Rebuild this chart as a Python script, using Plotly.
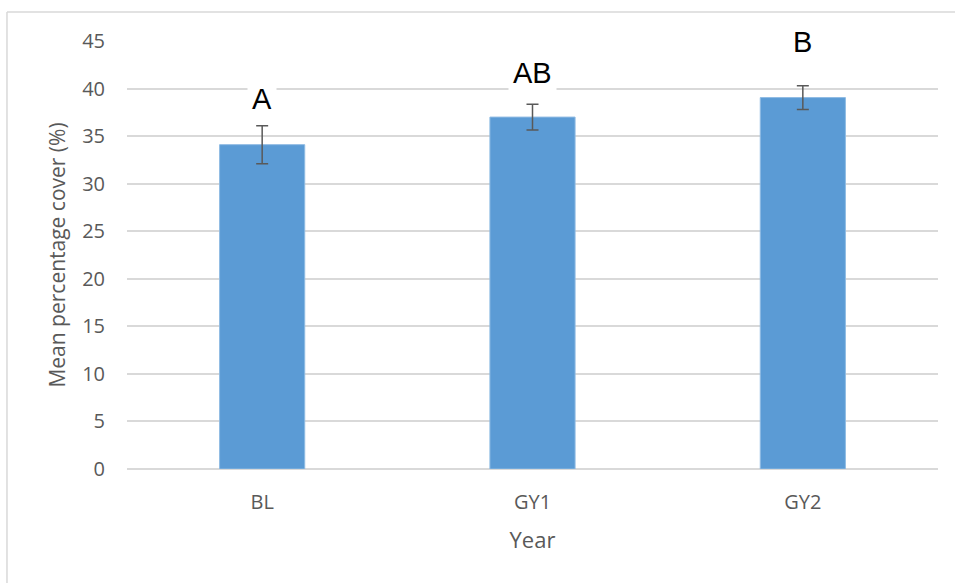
import plotly.graph_objects as go

years = ["BL", "GY1", "GY2"]
mean_cover = [34.1, 37.0, 39.05]
std_error = [2.0, 1.35, 1.25]
sig_letters = ["A", "AB", "B"]
y_ticks = [0, 5, 10, 15, 20, 25, 30, 35, 40, 45]

fig = go.Figure()
fig.add_trace(go.Bar(
    x=years, y=mean_cover,
    width=0.315,
    marker=dict(color="#5B9BD5", line=dict(color="#8fbbe3", width=1)),
    error_y=dict(type="data", array=std_error, visible=True,
                 color="#595959", thickness=1.5, width=6),
    showlegend=False,
))

# letter label heights (in data units), placed above each bar
label_heights = [38.9, 41.6, 44.9]
for yr, letter, ly in zip(years, sig_letters, label_heights):
    fig.add_annotation(
        x=yr, y=ly, xref="x", yref="y", text=letter, showarrow=False,
        font=dict(family="Liberation Sans, Arial", size=29, color="#000000"),
        bgcolor="#ffffff", borderpad=4, yanchor="middle", xanchor="center",
    )

# outer chart border (partially visible)
border = "#d9d9d9"
fig.add_shape(type="line", xref="paper", yref="paper",
              x0=-0.148, x1=1.05, y0=1.0678, y1=1.0678,
              line=dict(color=border, width=1.5), layer="below")
fig.add_shape(type="line", xref="paper", yref="paper",
              x0=-0.148, x1=-0.148, y0=1.0678, y1=-0.3,
              line=dict(color=border, width=1.5), layer="below")

fig.update_layout(
    width=955, height=583,
    margin=dict(l=127, r=17, t=41, b=114),
    paper_bgcolor="#ffffff", plot_bgcolor="#ffffff",
    font=dict(family="Open Sans", color="#595959"),
    xaxis=dict(
        showgrid=False, showline=False, zeroline=False,
        tickfont=dict(size=20, color="#595959"),
        ticks="", ticklabelstandoff=19,
        title=dict(text="Year", font=dict(size=22, color="#595959"), standoff=18),
    ),
    yaxis=dict(
        range=[0, 45], tickvals=y_ticks,
        showgrid=True, gridcolor="#d9d9d9", gridwidth=1.5,
        zeroline=True, zerolinecolor="#d9d9d9", zerolinewidth=1.5,
        showline=False, ticks="",
        tickfont=dict(size=20, color="#595959"),
        ticklabelstandoff=21,
        title=dict(text="Mean percentage cover (%)", font=dict(size=21, color="#595959"), standoff=10),
    ),
)

fig.write_html("out.html", config={"displayModeBar": False},
               post_script="document.body.style.margin='0';")
